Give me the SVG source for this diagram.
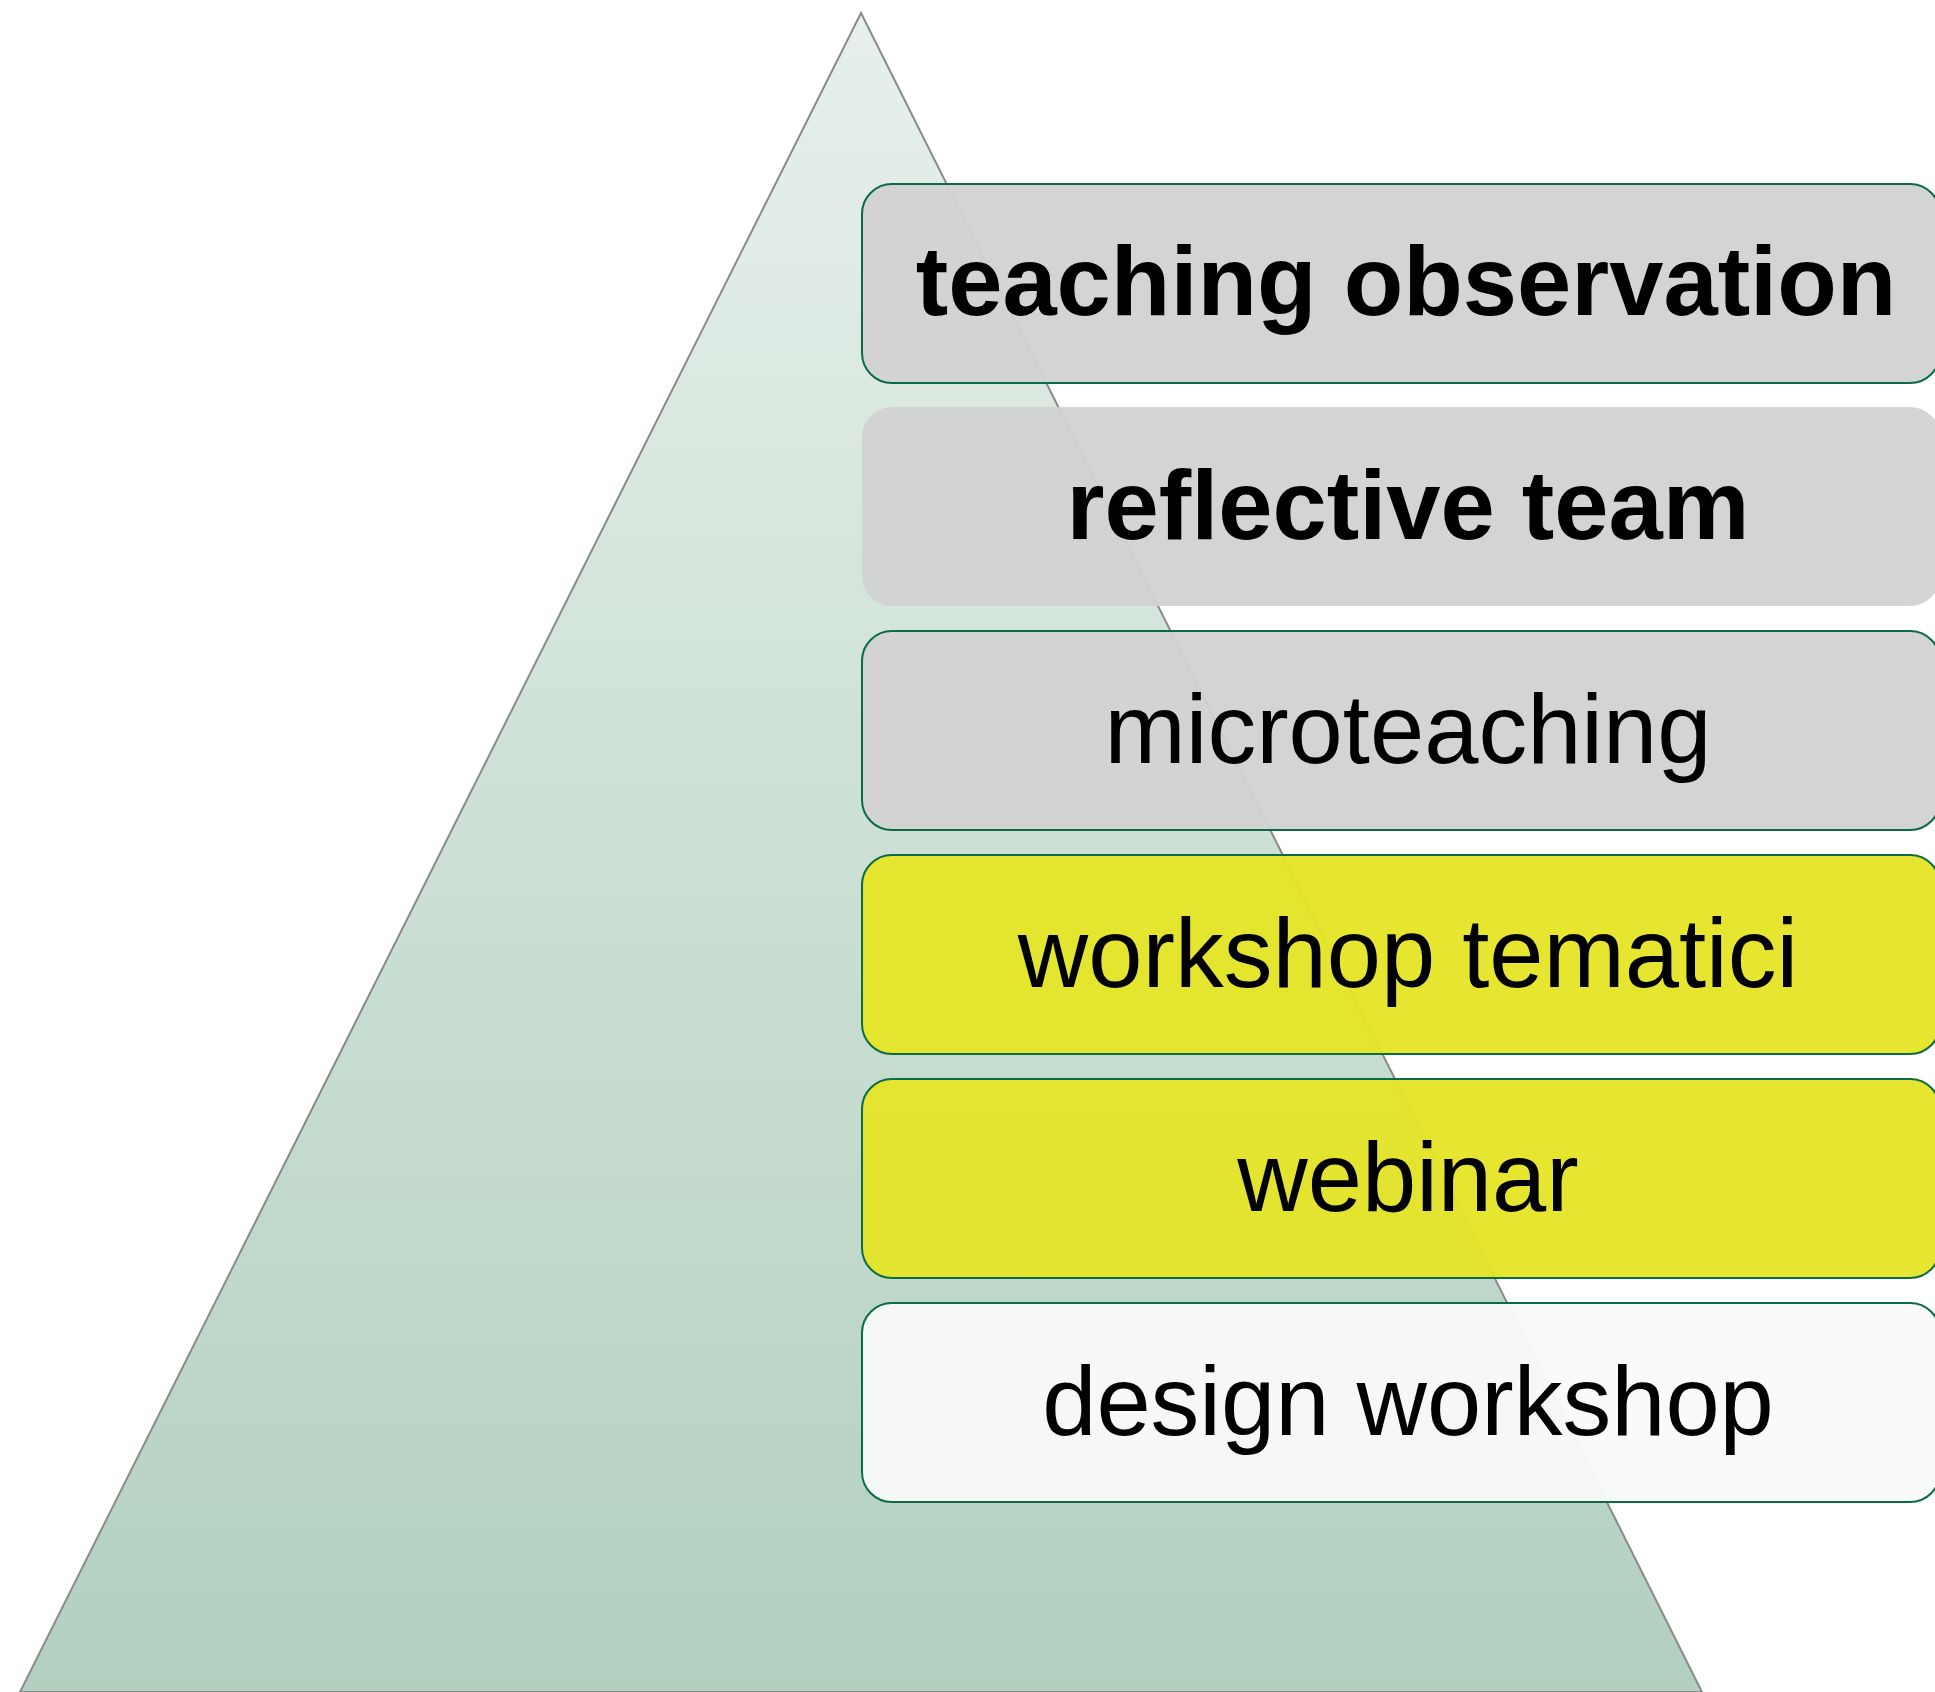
<svg xmlns="http://www.w3.org/2000/svg" width="1935" height="1692" viewBox="0 0 1935 1692">
<defs>
<linearGradient id="tri" x1="0" y1="0" x2="0" y2="1">
<stop offset="0" stop-color="#e7f0eb"/>
<stop offset="1" stop-color="#b2d0bf"/>
</linearGradient>
<style>
.box{stroke:#0b6b45;stroke-width:2;fill-opacity:0.95}
.gray{fill:#d2d2d2}
.yel{fill:#e5e526}
.wht{fill:#f9fafa}
.t{font-family:"Liberation Sans",Arial,sans-serif;font-size:97.5px;fill:#000;text-anchor:middle}
.b{font-weight:bold}
</style>
</defs>
<rect width="1935" height="1692" fill="#fff"/>
<g id="pyramid">
<polygon points="861,13 1702,1692 20,1692" fill="url(#tri)" stroke="#8a8a8a" stroke-width="2"/>
</g>
<g id="connectors"></g>
<g id="n1"><rect class="box gray" x="862" y="184" width="1078" height="199" rx="30"/><text class="t b" x="1406" y="315">teaching observation</text></g>
<g id="n2"><rect class="box gray" style="stroke:none" x="862" y="407" width="1078" height="199" rx="30"/><text class="t b" x="1408" y="539">reflective team</text></g>
<g id="n3"><rect class="box gray" x="862" y="631" width="1078" height="199" rx="30"/><text class="t" x="1408" y="763">microteaching</text></g>
<g id="n4"><rect class="box yel" x="862" y="855" width="1078" height="199" rx="30"/><text class="t" x="1408" y="987">workshop tematici</text></g>
<g id="n5"><rect class="box yel" x="862" y="1079" width="1078" height="199" rx="30"/><text class="t" x="1408" y="1211">webinar</text></g>
<g id="n6"><rect class="box wht" x="862" y="1303" width="1078" height="199" rx="30"/><text class="t" x="1408" y="1435">design workshop</text></g>
</svg>
